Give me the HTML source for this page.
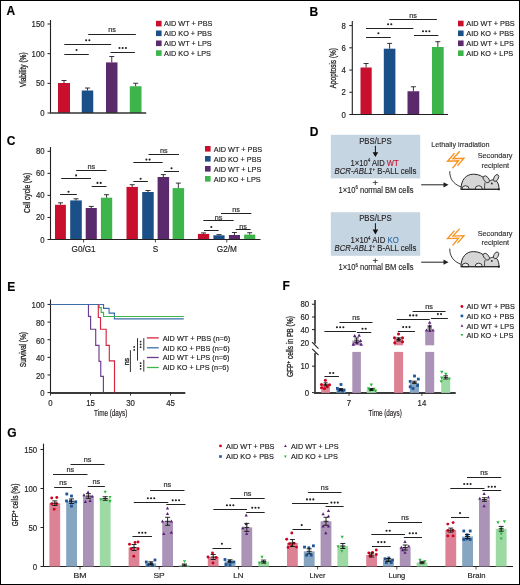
<!DOCTYPE html>
<html><head><meta charset="utf-8"><style>
html,body{margin:0;padding:0;background:#fff;}
svg{display:block;will-change:transform;}
text{font-family:"Liberation Sans", sans-serif;stroke:#231f20;stroke-width:0.18px;}
.l text{stroke-width:0.14px;}
</style></head><body>
<svg width="520" height="585" viewBox="0 0 520 585">
<rect x="0" y="0" width="520" height="585" fill="#fff"/>
<text x="6.5" y="15.3" font-size="12" text-anchor="start" fill="#000" stroke="#000" stroke-width="0.22" font-weight="bold">A</text>
<line x1="50.5" y1="20" x2="50.5" y2="113.5" stroke="#231f20" stroke-width="1.1"/>
<line x1="47.5" y1="24" x2="50.5" y2="24" stroke="#231f20" stroke-width="1"/>
<text x="44.6" y="27" font-size="8.5" text-anchor="end" fill="#231f20" stroke="#231f20" stroke-width="0.22" font-weight="normal" textLength="13.02" lengthAdjust="spacingAndGlyphs">150</text>
<line x1="47.5" y1="53.67" x2="50.5" y2="53.67" stroke="#231f20" stroke-width="1"/>
<text x="44.6" y="56.67" font-size="8.5" text-anchor="end" fill="#231f20" stroke="#231f20" stroke-width="0.22" font-weight="normal" textLength="13.02" lengthAdjust="spacingAndGlyphs">100</text>
<line x1="47.5" y1="83.33" x2="50.5" y2="83.33" stroke="#231f20" stroke-width="1"/>
<text x="44.6" y="86.33" font-size="8.5" text-anchor="end" fill="#231f20" stroke="#231f20" stroke-width="0.22" font-weight="normal" textLength="8.68" lengthAdjust="spacingAndGlyphs">50</text>
<line x1="47.5" y1="113" x2="50.5" y2="113" stroke="#231f20" stroke-width="1"/>
<text x="44.6" y="116" font-size="8.5" text-anchor="end" fill="#231f20" stroke="#231f20" stroke-width="0.22" font-weight="normal" textLength="4.34" lengthAdjust="spacingAndGlyphs">0</text>
<text transform="translate(22.8,69.7) rotate(-90)" x="0" y="2.91" font-size="8.3" text-anchor="middle" fill="#231f20" style="stroke-width:0.3px" textLength="34.8" lengthAdjust="spacingAndGlyphs">Viability (%)</text>
<rect x="58" y="83" width="12" height="30" fill="#c8102e"/>
<line x1="64" y1="83" x2="64" y2="80.5" stroke="#231f20" stroke-width="0.9"/>
<line x1="61.5" y1="80.5" x2="66.5" y2="80.5" stroke="#231f20" stroke-width="0.9"/>
<rect x="81.75" y="90.5" width="11.5" height="22.5" fill="#1b4f87"/>
<line x1="87.5" y1="90.5" x2="87.5" y2="88" stroke="#231f20" stroke-width="0.9"/>
<line x1="85" y1="88" x2="90" y2="88" stroke="#231f20" stroke-width="0.9"/>
<rect x="106" y="62.4" width="11.5" height="50.6" fill="#5b2a6c"/>
<line x1="111.75" y1="62.4" x2="111.75" y2="56.5" stroke="#231f20" stroke-width="0.9"/>
<line x1="109.25" y1="56.5" x2="114.25" y2="56.5" stroke="#231f20" stroke-width="0.9"/>
<rect x="129.8" y="86.25" width="11.7" height="26.75" fill="#3db54b"/>
<line x1="135.65" y1="86.25" x2="135.65" y2="83.25" stroke="#231f20" stroke-width="0.9"/>
<line x1="133.15" y1="83.25" x2="138.15" y2="83.25" stroke="#231f20" stroke-width="0.9"/>
<line x1="50.5" y1="113" x2="146.2" y2="113" stroke="#333" stroke-width="1.7"/>
<line x1="64.3" y1="54.5" x2="88.8" y2="54.5" stroke="#222" stroke-width="1"/>
<circle cx="76.55" cy="50" r="1.05" fill="#231f20"/>
<line x1="64.3" y1="44.5" x2="111.2" y2="44.5" stroke="#222" stroke-width="1"/>
<circle cx="86.15" cy="40.3" r="1.05" fill="#231f20"/>
<circle cx="89.35" cy="40.3" r="1.05" fill="#231f20"/>
<line x1="88.15" y1="34.5" x2="135.85" y2="34.5" stroke="#222" stroke-width="1"/>
<text x="112" y="32.4" font-size="7.3" text-anchor="middle" fill="#333" stroke="#333" stroke-width="0.22" font-weight="normal">ns</text>
<line x1="110.5" y1="52.5" x2="134.9" y2="52.5" stroke="#222" stroke-width="1"/>
<circle cx="119.5" cy="48" r="1.05" fill="#231f20"/>
<circle cx="122.7" cy="48" r="1.05" fill="#231f20"/>
<circle cx="125.9" cy="48" r="1.05" fill="#231f20"/>
<rect x="156" y="20.8" width="5.6" height="5.6" fill="#c8102e"/>
<text x="164.1" y="26.35" font-size="7.8" text-anchor="start" fill="#231f20" stroke="#231f20" stroke-width="0.22" font-weight="normal" textLength="48.34" lengthAdjust="spacingAndGlyphs">AID WT + PBS</text>
<rect x="156" y="30.5" width="5.6" height="5.6" fill="#1b4f87"/>
<text x="164.1" y="36.05" font-size="7.8" text-anchor="start" fill="#231f20" stroke="#231f20" stroke-width="0.22" font-weight="normal" textLength="47.67" lengthAdjust="spacingAndGlyphs">AID KO + PBS</text>
<rect x="156" y="40.5" width="5.6" height="5.6" fill="#5b2a6c"/>
<text x="164.1" y="46.05" font-size="7.8" text-anchor="start" fill="#231f20" stroke="#231f20" stroke-width="0.22" font-weight="normal" textLength="47.53" lengthAdjust="spacingAndGlyphs">AID WT + LPS</text>
<rect x="156" y="50.3" width="5.6" height="5.6" fill="#3db54b"/>
<text x="164.1" y="55.85" font-size="7.8" text-anchor="start" fill="#231f20" stroke="#231f20" stroke-width="0.22" font-weight="normal" textLength="46.86" lengthAdjust="spacingAndGlyphs">AID KO + LPS</text>
<text x="309.5" y="16" font-size="12" text-anchor="start" fill="#000" stroke="#000" stroke-width="0.22" font-weight="bold">B</text>
<line x1="352.3" y1="21" x2="352.3" y2="115" stroke="#231f20" stroke-width="1.1"/>
<line x1="349.3" y1="25.6" x2="352.3" y2="25.6" stroke="#231f20" stroke-width="1"/>
<text x="345.8" y="28.6" font-size="8.5" text-anchor="end" fill="#231f20" stroke="#231f20" stroke-width="0.22" font-weight="normal" textLength="4.34" lengthAdjust="spacingAndGlyphs">8</text>
<line x1="349.3" y1="47.82" x2="352.3" y2="47.82" stroke="#231f20" stroke-width="1"/>
<text x="345.8" y="50.82" font-size="8.5" text-anchor="end" fill="#231f20" stroke="#231f20" stroke-width="0.22" font-weight="normal" textLength="4.34" lengthAdjust="spacingAndGlyphs">6</text>
<line x1="349.3" y1="70.05" x2="352.3" y2="70.05" stroke="#231f20" stroke-width="1"/>
<text x="345.8" y="73.05" font-size="8.5" text-anchor="end" fill="#231f20" stroke="#231f20" stroke-width="0.22" font-weight="normal" textLength="4.34" lengthAdjust="spacingAndGlyphs">4</text>
<line x1="349.3" y1="92.28" x2="352.3" y2="92.28" stroke="#231f20" stroke-width="1"/>
<text x="345.8" y="95.28" font-size="8.5" text-anchor="end" fill="#231f20" stroke="#231f20" stroke-width="0.22" font-weight="normal" textLength="4.34" lengthAdjust="spacingAndGlyphs">2</text>
<line x1="349.3" y1="114.5" x2="352.3" y2="114.5" stroke="#231f20" stroke-width="1"/>
<text x="345.8" y="117.5" font-size="8.5" text-anchor="end" fill="#231f20" stroke="#231f20" stroke-width="0.22" font-weight="normal" textLength="4.34" lengthAdjust="spacingAndGlyphs">0</text>
<text transform="translate(333.5,68.2) rotate(-90)" x="0" y="2.91" font-size="8.3" text-anchor="middle" fill="#231f20" style="stroke-width:0.3px" textLength="40.3" lengthAdjust="spacingAndGlyphs">Apoptosis (%)</text>
<rect x="360.5" y="67.5" width="11.2" height="47" fill="#c8102e"/>
<line x1="366.1" y1="67.5" x2="366.1" y2="63.5" stroke="#231f20" stroke-width="0.9"/>
<line x1="363.6" y1="63.5" x2="368.6" y2="63.5" stroke="#231f20" stroke-width="0.9"/>
<rect x="383.8" y="48.7" width="11.6" height="65.8" fill="#1b4f87"/>
<line x1="389.6" y1="48.7" x2="389.6" y2="43.4" stroke="#231f20" stroke-width="0.9"/>
<line x1="387.1" y1="43.4" x2="392.1" y2="43.4" stroke="#231f20" stroke-width="0.9"/>
<rect x="407.5" y="91.25" width="11.75" height="23.25" fill="#5b2a6c"/>
<line x1="413.38" y1="91.25" x2="413.38" y2="86.75" stroke="#231f20" stroke-width="0.9"/>
<line x1="410.88" y1="86.75" x2="415.88" y2="86.75" stroke="#231f20" stroke-width="0.9"/>
<rect x="432" y="47" width="11.7" height="67.5" fill="#3db54b"/>
<line x1="437.85" y1="47" x2="437.85" y2="41.7" stroke="#231f20" stroke-width="0.9"/>
<line x1="435.35" y1="41.7" x2="440.35" y2="41.7" stroke="#231f20" stroke-width="0.9"/>
<line x1="352.3" y1="114.5" x2="448" y2="114.5" stroke="#231f20" stroke-width="1.1"/>
<line x1="366" y1="37.5" x2="390.8" y2="37.5" stroke="#222" stroke-width="1"/>
<circle cx="378.4" cy="33.3" r="1.05" fill="#231f20"/>
<line x1="366" y1="28.5" x2="413.4" y2="28.5" stroke="#222" stroke-width="1"/>
<circle cx="388.1" cy="24.2" r="1.05" fill="#231f20"/>
<circle cx="391.3" cy="24.2" r="1.05" fill="#231f20"/>
<line x1="389.3" y1="19.5" x2="436.9" y2="19.5" stroke="#222" stroke-width="1"/>
<text x="413.1" y="17.8" font-size="7.3" text-anchor="middle" fill="#333" stroke="#333" stroke-width="0.22" font-weight="normal">ns</text>
<line x1="414" y1="35.5" x2="438.4" y2="35.5" stroke="#222" stroke-width="1"/>
<circle cx="423" cy="31.2" r="1.05" fill="#231f20"/>
<circle cx="426.2" cy="31.2" r="1.05" fill="#231f20"/>
<circle cx="429.4" cy="31.2" r="1.05" fill="#231f20"/>
<rect x="458" y="20.7" width="5.6" height="5.6" fill="#c8102e"/>
<text x="466.3" y="26.25" font-size="7.8" text-anchor="start" fill="#231f20" stroke="#231f20" stroke-width="0.22" font-weight="normal" textLength="48.34" lengthAdjust="spacingAndGlyphs">AID WT + PBS</text>
<rect x="458" y="30.5" width="5.6" height="5.6" fill="#1b4f87"/>
<text x="466.3" y="36.05" font-size="7.8" text-anchor="start" fill="#231f20" stroke="#231f20" stroke-width="0.22" font-weight="normal" textLength="47.67" lengthAdjust="spacingAndGlyphs">AID KO + PBS</text>
<rect x="458" y="40.5" width="5.6" height="5.6" fill="#5b2a6c"/>
<text x="466.3" y="46.05" font-size="7.8" text-anchor="start" fill="#231f20" stroke="#231f20" stroke-width="0.22" font-weight="normal" textLength="47.53" lengthAdjust="spacingAndGlyphs">AID WT + LPS</text>
<rect x="458" y="50.4" width="5.6" height="5.6" fill="#3db54b"/>
<text x="466.3" y="55.95" font-size="7.8" text-anchor="start" fill="#231f20" stroke="#231f20" stroke-width="0.22" font-weight="normal" textLength="46.86" lengthAdjust="spacingAndGlyphs">AID KO + LPS</text>
<text x="6.8" y="145" font-size="12" text-anchor="start" fill="#000" stroke="#000" stroke-width="0.22" font-weight="bold">C</text>
<line x1="50.5" y1="147" x2="50.5" y2="240" stroke="#231f20" stroke-width="1.1"/>
<line x1="47.5" y1="151.3" x2="50.5" y2="151.3" stroke="#231f20" stroke-width="1"/>
<text x="44.6" y="154.3" font-size="8.5" text-anchor="end" fill="#231f20" stroke="#231f20" stroke-width="0.22" font-weight="normal" textLength="8.68" lengthAdjust="spacingAndGlyphs">80</text>
<line x1="47.5" y1="173.35" x2="50.5" y2="173.35" stroke="#231f20" stroke-width="1"/>
<text x="44.6" y="176.35" font-size="8.5" text-anchor="end" fill="#231f20" stroke="#231f20" stroke-width="0.22" font-weight="normal" textLength="8.68" lengthAdjust="spacingAndGlyphs">60</text>
<line x1="47.5" y1="195.4" x2="50.5" y2="195.4" stroke="#231f20" stroke-width="1"/>
<text x="44.6" y="198.4" font-size="8.5" text-anchor="end" fill="#231f20" stroke="#231f20" stroke-width="0.22" font-weight="normal" textLength="8.68" lengthAdjust="spacingAndGlyphs">40</text>
<line x1="47.5" y1="217.45" x2="50.5" y2="217.45" stroke="#231f20" stroke-width="1"/>
<text x="44.6" y="220.45" font-size="8.5" text-anchor="end" fill="#231f20" stroke="#231f20" stroke-width="0.22" font-weight="normal" textLength="8.68" lengthAdjust="spacingAndGlyphs">20</text>
<line x1="47.5" y1="239.5" x2="50.5" y2="239.5" stroke="#231f20" stroke-width="1"/>
<text x="44.6" y="242.5" font-size="8.5" text-anchor="end" fill="#231f20" stroke="#231f20" stroke-width="0.22" font-weight="normal" textLength="4.34" lengthAdjust="spacingAndGlyphs">0</text>
<text transform="translate(27.2,193) rotate(-90)" x="0" y="2.91" font-size="8.3" text-anchor="middle" fill="#231f20" style="stroke-width:0.3px" textLength="40.2" lengthAdjust="spacingAndGlyphs">Cell cycle (%)</text>
<rect x="55" y="204.8" width="10.9" height="34.7" fill="#c8102e"/>
<line x1="60.45" y1="204.8" x2="60.45" y2="202.8" stroke="#231f20" stroke-width="0.9"/>
<line x1="57.95" y1="202.8" x2="62.95" y2="202.8" stroke="#231f20" stroke-width="0.9"/>
<rect x="70.2" y="200.4" width="11.6" height="39.1" fill="#1b4f87"/>
<line x1="76" y1="200.4" x2="76" y2="198.8" stroke="#231f20" stroke-width="0.9"/>
<line x1="73.5" y1="198.8" x2="78.5" y2="198.8" stroke="#231f20" stroke-width="0.9"/>
<rect x="85.7" y="208" width="11.1" height="31.5" fill="#5b2a6c"/>
<line x1="91.25" y1="208" x2="91.25" y2="206.4" stroke="#231f20" stroke-width="0.9"/>
<line x1="88.75" y1="206.4" x2="93.75" y2="206.4" stroke="#231f20" stroke-width="0.9"/>
<rect x="100.9" y="197.7" width="11.3" height="41.8" fill="#3db54b"/>
<line x1="106.55" y1="197.7" x2="106.55" y2="194.7" stroke="#231f20" stroke-width="0.9"/>
<line x1="104.05" y1="194.7" x2="109.05" y2="194.7" stroke="#231f20" stroke-width="0.9"/>
<rect x="126.5" y="186.9" width="11.4" height="52.6" fill="#c8102e"/>
<line x1="132.2" y1="186.9" x2="132.2" y2="184.7" stroke="#231f20" stroke-width="0.9"/>
<line x1="129.7" y1="184.7" x2="134.7" y2="184.7" stroke="#231f20" stroke-width="0.9"/>
<rect x="142.2" y="192" width="11.5" height="47.5" fill="#1b4f87"/>
<line x1="147.95" y1="192" x2="147.95" y2="190.5" stroke="#231f20" stroke-width="0.9"/>
<line x1="145.45" y1="190.5" x2="150.45" y2="190.5" stroke="#231f20" stroke-width="0.9"/>
<rect x="157.6" y="177" width="11.5" height="62.5" fill="#5b2a6c"/>
<line x1="163.35" y1="177" x2="163.35" y2="174.6" stroke="#231f20" stroke-width="0.9"/>
<line x1="160.85" y1="174.6" x2="165.85" y2="174.6" stroke="#231f20" stroke-width="0.9"/>
<rect x="172.6" y="188.1" width="11.5" height="51.4" fill="#3db54b"/>
<line x1="178.35" y1="188.1" x2="178.35" y2="183.1" stroke="#231f20" stroke-width="0.9"/>
<line x1="175.85" y1="183.1" x2="180.85" y2="183.1" stroke="#231f20" stroke-width="0.9"/>
<rect x="197.9" y="233.9" width="11.3" height="5.6" fill="#c8102e"/>
<line x1="203.55" y1="233.9" x2="203.55" y2="232.9" stroke="#231f20" stroke-width="0.9"/>
<line x1="201.05" y1="232.9" x2="206.05" y2="232.9" stroke="#231f20" stroke-width="0.9"/>
<rect x="213.4" y="235.3" width="11.2" height="4.2" fill="#1b4f87"/>
<line x1="219" y1="235.3" x2="219" y2="234.6" stroke="#231f20" stroke-width="0.9"/>
<line x1="216.5" y1="234.6" x2="221.5" y2="234.6" stroke="#231f20" stroke-width="0.9"/>
<rect x="228.9" y="235" width="11.1" height="4.5" fill="#5b2a6c"/>
<line x1="234.45" y1="235" x2="234.45" y2="232.5" stroke="#231f20" stroke-width="0.9"/>
<line x1="231.95" y1="232.5" x2="236.95" y2="232.5" stroke="#231f20" stroke-width="0.9"/>
<rect x="244.1" y="234.6" width="11.2" height="4.9" fill="#3db54b"/>
<line x1="249.7" y1="234.6" x2="249.7" y2="232.7" stroke="#231f20" stroke-width="0.9"/>
<line x1="247.2" y1="232.7" x2="252.2" y2="232.7" stroke="#231f20" stroke-width="0.9"/>
<line x1="50.5" y1="239.5" x2="260.5" y2="239.5" stroke="#231f20" stroke-width="1.1"/>
<line x1="83.6" y1="239.5" x2="83.6" y2="242.5" stroke="#231f20" stroke-width="0.8"/>
<text x="83.6" y="251.9" font-size="8.2" text-anchor="middle" fill="#231f20" stroke="#231f20" stroke-width="0.22" font-weight="normal">G0/G1</text>
<line x1="155.4" y1="239.5" x2="155.4" y2="242.5" stroke="#231f20" stroke-width="0.8"/>
<text x="155.4" y="251.9" font-size="8.2" text-anchor="middle" fill="#231f20" stroke="#231f20" stroke-width="0.22" font-weight="normal">S</text>
<line x1="226.8" y1="239.5" x2="226.8" y2="242.5" stroke="#231f20" stroke-width="0.8"/>
<text x="226.8" y="251.9" font-size="8.2" text-anchor="middle" fill="#231f20" stroke="#231f20" stroke-width="0.22" font-weight="normal">G2/M</text>
<line x1="60.1" y1="194.5" x2="76.9" y2="194.5" stroke="#222" stroke-width="1"/>
<circle cx="68.5" cy="191.7" r="1.05" fill="#231f20"/>
<line x1="61.2" y1="178.5" x2="91" y2="178.5" stroke="#222" stroke-width="1"/>
<circle cx="76.1" cy="175.4" r="1.05" fill="#231f20"/>
<line x1="76.2" y1="170.5" x2="106.5" y2="170.5" stroke="#222" stroke-width="1"/>
<text x="91.35" y="169.4" font-size="7.3" text-anchor="middle" fill="#333" stroke="#333" stroke-width="0.22" font-weight="normal">ns</text>
<line x1="91.7" y1="186.5" x2="106.5" y2="186.5" stroke="#222" stroke-width="1"/>
<circle cx="97.5" cy="182.9" r="1.05" fill="#231f20"/>
<circle cx="100.7" cy="182.9" r="1.05" fill="#231f20"/>
<line x1="133.3" y1="181.5" x2="147.9" y2="181.5" stroke="#222" stroke-width="1"/>
<circle cx="140.6" cy="178.75" r="1.05" fill="#231f20"/>
<line x1="133.3" y1="162.5" x2="162.7" y2="162.5" stroke="#222" stroke-width="1"/>
<circle cx="146.4" cy="159.6" r="1.05" fill="#231f20"/>
<circle cx="149.6" cy="159.6" r="1.05" fill="#231f20"/>
<line x1="148.5" y1="154.5" x2="179" y2="154.5" stroke="#222" stroke-width="1"/>
<text x="163.75" y="153.4" font-size="7.3" text-anchor="middle" fill="#333" stroke="#333" stroke-width="0.22" font-weight="normal">ns</text>
<line x1="164.1" y1="171.5" x2="179" y2="171.5" stroke="#222" stroke-width="1"/>
<circle cx="171.55" cy="168.2" r="1.05" fill="#231f20"/>
<line x1="204" y1="230.5" x2="218.6" y2="230.5" stroke="#222" stroke-width="1"/>
<circle cx="211.3" cy="227" r="1.05" fill="#231f20"/>
<line x1="203.3" y1="220.5" x2="233.7" y2="220.5" stroke="#222" stroke-width="1"/>
<text x="218.5" y="219.9" font-size="7.3" text-anchor="middle" fill="#333" stroke="#333" stroke-width="0.22" font-weight="normal">ns</text>
<line x1="221" y1="213.5" x2="251.3" y2="213.5" stroke="#222" stroke-width="1"/>
<text x="236.15" y="212.3" font-size="7.3" text-anchor="middle" fill="#333" stroke="#333" stroke-width="0.22" font-weight="normal">ns</text>
<line x1="235.7" y1="229.5" x2="250.6" y2="229.5" stroke="#222" stroke-width="1"/>
<text x="243.15" y="228.6" font-size="7.3" text-anchor="middle" fill="#333" stroke="#333" stroke-width="0.22" font-weight="normal">ns</text>
<rect x="205" y="146" width="5.6" height="5.6" fill="#c8102e"/>
<text x="213.8" y="151.55" font-size="7.8" text-anchor="start" fill="#231f20" stroke="#231f20" stroke-width="0.22" font-weight="normal" textLength="48.34" lengthAdjust="spacingAndGlyphs">AID WT + PBS</text>
<rect x="205" y="156" width="5.6" height="5.6" fill="#1b4f87"/>
<text x="213.8" y="161.55" font-size="7.8" text-anchor="start" fill="#231f20" stroke="#231f20" stroke-width="0.22" font-weight="normal" textLength="47.67" lengthAdjust="spacingAndGlyphs">AID KO + PBS</text>
<rect x="205" y="166" width="5.6" height="5.6" fill="#5b2a6c"/>
<text x="213.8" y="171.55" font-size="7.8" text-anchor="start" fill="#231f20" stroke="#231f20" stroke-width="0.22" font-weight="normal" textLength="47.53" lengthAdjust="spacingAndGlyphs">AID WT + LPS</text>
<rect x="205" y="176" width="5.6" height="5.6" fill="#3db54b"/>
<text x="213.8" y="181.55" font-size="7.8" text-anchor="start" fill="#231f20" stroke="#231f20" stroke-width="0.22" font-weight="normal" textLength="46.86" lengthAdjust="spacingAndGlyphs">AID KO + LPS</text>
<text x="309.8" y="136.2" font-size="12" text-anchor="start" fill="#000" stroke="#000" stroke-width="0.22" font-weight="bold">D</text>
<g class="l">
<rect x="330.8" y="134.8" width="89.4" height="43.6" fill="#c6d5e2"/>
<text x="375.4" y="143.8" font-size="8.5" text-anchor="middle" fill="#231f20" stroke="#231f20" stroke-width="0.22" font-weight="normal" textLength="32.5" lengthAdjust="spacingAndGlyphs">PBS/LPS</text>
<line x1="375.4" y1="145.8" x2="375.4" y2="154" stroke="#111" stroke-width="1"/>
<path d="M372.6 152.2 L378.2 152.2 L375.4 157 Z" fill="#111"/>
<text x="374.65" y="165.6" font-size="8.3" text-anchor="middle" fill="#231f20" textLength="48.1" lengthAdjust="spacingAndGlyphs">1×10<tspan font-size="4.8" dy="-3.2">4</tspan><tspan dy="3.2"> AID </tspan><tspan fill="#c8102e" stroke="#c8102e">WT</tspan></text>
<text x="375.45" y="173.8" font-size="8.3" text-anchor="middle" fill="#231f20" textLength="81.7" lengthAdjust="spacingAndGlyphs"><tspan font-style="italic">BCR-ABL1</tspan><tspan font-size="4.8" dy="-3.2">+</tspan><tspan dy="3.2"> B-ALL cells</tspan></text>
<text x="375.4" y="186.2" font-size="9.5" text-anchor="middle" fill="#231f20" stroke="#231f20" stroke-width="0.22" font-weight="normal">+</text>
<text x="376" y="192.5" font-size="8.3" text-anchor="middle" fill="#231f20" textLength="75" lengthAdjust="spacingAndGlyphs">1×10<tspan font-size="4.8" dy="-3.2">6</tspan><tspan dy="3.2"> normal BM cells</tspan></text>
<line x1="421.2" y1="184.8" x2="445" y2="184.8" stroke="#222" stroke-width="1"/>
<path d="M443.5 182.2 L448.5 184.8 L443.5 187.4 Z" fill="#222"/>
<path d="M454.5 153.25 L447.5 161.25 L458.5 160.75 L452.5 168.25" fill="none" stroke="#f7931e" stroke-width="1.3" stroke-linejoin="miter"/>
<path d="M459.75 151.25 L453 158.75 L464 158.25 L457.5 165.75" fill="none" stroke="#f7931e" stroke-width="1.3" stroke-linejoin="miter"/>
<text x="495.1" y="158.4" font-size="7.7" text-anchor="middle" fill="#333" stroke="#333" stroke-width="0.22" font-weight="normal" textLength="34.8" lengthAdjust="spacingAndGlyphs">Secondary</text>
<text x="495.3" y="167.6" font-size="7.7" text-anchor="middle" fill="#333" stroke="#333" stroke-width="0.22" font-weight="normal" textLength="27.7" lengthAdjust="spacingAndGlyphs">recipient</text>
<path d="M449.8 171.2 C449.5 178 453 184 461 186.9" fill="none" stroke="#262626" stroke-width="0.9"/>
<path d="M461 189.3 C461 179.8 466 174.2 473.5 174.2 C479 174.2 483 176.5 485.5 179.5 L488 182 C491 179.5 495 179 497 181.5 C498.5 183.5 499 186.5 499 189.3 Z" fill="#d6d6d6" stroke="#262626" stroke-width="1.0" stroke-linejoin="round"/>
<path d="M485 182.5 Q484.3 185.8 484.6 189.3" fill="none" stroke="#262626" stroke-width="0.8"/>
<path d="M461.9 189.3 A3.6 3.6 0 0 1 469.1 189.3 Z" fill="#ececec" stroke="#262626" stroke-width="0.9"/>
<path d="M475.1 189.3 A3.6 3.6 0 0 1 482.3 189.3 Z" fill="#ececec" stroke="#262626" stroke-width="0.9"/>
<ellipse cx="486.3" cy="179.3" rx="2.4" ry="4.0" transform="rotate(-40 486.3 179.3)" fill="#d6d6d6" stroke="#262626" stroke-width="0.8"/>
<ellipse cx="496.1" cy="178" rx="2.2" ry="3.7" transform="rotate(28 496.1 178)" fill="#d6d6d6" stroke="#262626" stroke-width="0.8"/>
<circle cx="491.8" cy="183.5" r="0.9" fill="#262626"/>
<circle cx="498.9" cy="189.3" r="1.15" fill="#262626"/>
<line x1="460.5" y1="189.3" x2="499" y2="189.3" stroke="#262626" stroke-width="1"/>
<text x="460.45" y="147.2" font-size="7.6" text-anchor="middle" fill="#333" stroke="#333" stroke-width="0.22" font-weight="normal" textLength="58.3" lengthAdjust="spacingAndGlyphs">Lethally irradiation</text>
<rect x="330.8" y="212.2" width="89.4" height="43.6" fill="#c6d5e2"/>
<text x="375.4" y="221.2" font-size="8.5" text-anchor="middle" fill="#231f20" stroke="#231f20" stroke-width="0.22" font-weight="normal" textLength="32.5" lengthAdjust="spacingAndGlyphs">PBS/LPS</text>
<line x1="375.4" y1="223.2" x2="375.4" y2="231.4" stroke="#111" stroke-width="1"/>
<path d="M372.6 229.6 L378.2 229.6 L375.4 234.4 Z" fill="#111"/>
<text x="374.65" y="243" font-size="8.3" text-anchor="middle" fill="#231f20" textLength="48.1" lengthAdjust="spacingAndGlyphs">1×10<tspan font-size="4.8" dy="-3.2">4</tspan><tspan dy="3.2"> AID </tspan><tspan fill="#2b6aa6" stroke="#2b6aa6">KO</tspan></text>
<text x="375.45" y="251.2" font-size="8.3" text-anchor="middle" fill="#231f20" textLength="81.7" lengthAdjust="spacingAndGlyphs"><tspan font-style="italic">BCR-ABL1</tspan><tspan font-size="4.8" dy="-3.2">+</tspan><tspan dy="3.2"> B-ALL cells</tspan></text>
<text x="375.4" y="263.6" font-size="9.5" text-anchor="middle" fill="#231f20" stroke="#231f20" stroke-width="0.22" font-weight="normal">+</text>
<text x="376" y="269.9" font-size="8.3" text-anchor="middle" fill="#231f20" textLength="75" lengthAdjust="spacingAndGlyphs">1×10<tspan font-size="4.8" dy="-3.2">6</tspan><tspan dy="3.2"> normal BM cells</tspan></text>
<line x1="421.2" y1="262.2" x2="445" y2="262.2" stroke="#222" stroke-width="1"/>
<path d="M443.5 259.6 L448.5 262.2 L443.5 264.8 Z" fill="#222"/>
<path d="M454.5 230.65 L447.5 238.65 L458.5 238.15 L452.5 245.65" fill="none" stroke="#f7931e" stroke-width="1.3" stroke-linejoin="miter"/>
<path d="M459.75 228.65 L453 236.15 L464 235.65 L457.5 243.15" fill="none" stroke="#f7931e" stroke-width="1.3" stroke-linejoin="miter"/>
<text x="495.1" y="235.8" font-size="7.7" text-anchor="middle" fill="#333" stroke="#333" stroke-width="0.22" font-weight="normal" textLength="34.8" lengthAdjust="spacingAndGlyphs">Secondary</text>
<text x="495.3" y="245" font-size="7.7" text-anchor="middle" fill="#333" stroke="#333" stroke-width="0.22" font-weight="normal" textLength="27.7" lengthAdjust="spacingAndGlyphs">recipient</text>
<path d="M449.8 248.6 C449.5 255.4 453 261.4 461 264.3" fill="none" stroke="#262626" stroke-width="0.9"/>
<path d="M461 266.7 C461 257.2 466 251.6 473.5 251.6 C479 251.6 483 253.9 485.5 256.9 L488 259.4 C491 256.9 495 256.4 497 258.9 C498.5 260.9 499 263.9 499 266.7 Z" fill="#d6d6d6" stroke="#262626" stroke-width="1.0" stroke-linejoin="round"/>
<path d="M485 259.9 Q484.3 263.2 484.6 266.7" fill="none" stroke="#262626" stroke-width="0.8"/>
<path d="M461.9 266.7 A3.6 3.6 0 0 1 469.1 266.7 Z" fill="#ececec" stroke="#262626" stroke-width="0.9"/>
<path d="M475.1 266.7 A3.6 3.6 0 0 1 482.3 266.7 Z" fill="#ececec" stroke="#262626" stroke-width="0.9"/>
<ellipse cx="486.3" cy="256.7" rx="2.4" ry="4.0" transform="rotate(-40 486.3 256.7)" fill="#d6d6d6" stroke="#262626" stroke-width="0.8"/>
<ellipse cx="496.1" cy="255.4" rx="2.2" ry="3.7" transform="rotate(28 496.1 255.4)" fill="#d6d6d6" stroke="#262626" stroke-width="0.8"/>
<circle cx="491.8" cy="260.9" r="0.9" fill="#262626"/>
<circle cx="498.9" cy="266.7" r="1.15" fill="#262626"/>
<line x1="460.5" y1="266.7" x2="499" y2="266.7" stroke="#262626" stroke-width="1"/>
</g>
<text x="7.2" y="290.8" font-size="12" text-anchor="start" fill="#000" stroke="#000" stroke-width="0.22" font-weight="bold">E</text>
<line x1="50.5" y1="299.5" x2="50.5" y2="393.1" stroke="#231f20" stroke-width="1.1"/>
<line x1="47.5" y1="304.45" x2="50.5" y2="304.45" stroke="#231f20" stroke-width="1"/>
<text x="44.6" y="308.25" font-size="8.5" text-anchor="end" fill="#231f20" stroke="#231f20" stroke-width="0.22" font-weight="normal" textLength="13.02" lengthAdjust="spacingAndGlyphs">100</text>
<line x1="47.5" y1="322.08" x2="50.5" y2="322.08" stroke="#231f20" stroke-width="1"/>
<text x="44.6" y="325.88" font-size="8.5" text-anchor="end" fill="#231f20" stroke="#231f20" stroke-width="0.22" font-weight="normal" textLength="8.68" lengthAdjust="spacingAndGlyphs">80</text>
<line x1="47.5" y1="339.71" x2="50.5" y2="339.71" stroke="#231f20" stroke-width="1"/>
<text x="44.6" y="343.51" font-size="8.5" text-anchor="end" fill="#231f20" stroke="#231f20" stroke-width="0.22" font-weight="normal" textLength="8.68" lengthAdjust="spacingAndGlyphs">60</text>
<line x1="47.5" y1="357.34" x2="50.5" y2="357.34" stroke="#231f20" stroke-width="1"/>
<text x="44.6" y="361.14" font-size="8.5" text-anchor="end" fill="#231f20" stroke="#231f20" stroke-width="0.22" font-weight="normal" textLength="8.68" lengthAdjust="spacingAndGlyphs">40</text>
<line x1="47.5" y1="374.97" x2="50.5" y2="374.97" stroke="#231f20" stroke-width="1"/>
<text x="44.6" y="378.77" font-size="8.5" text-anchor="end" fill="#231f20" stroke="#231f20" stroke-width="0.22" font-weight="normal" textLength="8.68" lengthAdjust="spacingAndGlyphs">20</text>
<line x1="47.5" y1="392.6" x2="50.5" y2="392.6" stroke="#231f20" stroke-width="1"/>
<text x="44.6" y="396.4" font-size="8.5" text-anchor="end" fill="#231f20" stroke="#231f20" stroke-width="0.22" font-weight="normal" textLength="4.34" lengthAdjust="spacingAndGlyphs">0</text>
<text transform="translate(22.8,349.6) rotate(-90)" x="0" y="2.91" font-size="8.3" text-anchor="middle" fill="#231f20" style="stroke-width:0.3px" textLength="35.2" lengthAdjust="spacingAndGlyphs">Survival (%)</text>
<line x1="50.5" y1="393" x2="185.3" y2="393" stroke="#3a3a3a" stroke-width="1.8"/>
<line x1="50.5" y1="392.6" x2="50.5" y2="395.6" stroke="#231f20" stroke-width="0.9"/>
<text x="50.5" y="405.5" font-size="8.5" text-anchor="middle" fill="#231f20" stroke="#231f20" stroke-width="0.22" font-weight="normal" textLength="4.34" lengthAdjust="spacingAndGlyphs">0</text>
<line x1="90.5" y1="392.6" x2="90.5" y2="395.6" stroke="#231f20" stroke-width="0.9"/>
<text x="90.5" y="405.5" font-size="8.5" text-anchor="middle" fill="#231f20" stroke="#231f20" stroke-width="0.22" font-weight="normal" textLength="8.68" lengthAdjust="spacingAndGlyphs">15</text>
<line x1="130.5" y1="392.6" x2="130.5" y2="395.6" stroke="#231f20" stroke-width="0.9"/>
<text x="130.5" y="405.5" font-size="8.5" text-anchor="middle" fill="#231f20" stroke="#231f20" stroke-width="0.22" font-weight="normal" textLength="8.68" lengthAdjust="spacingAndGlyphs">30</text>
<line x1="170.5" y1="392.6" x2="170.5" y2="395.6" stroke="#231f20" stroke-width="0.9"/>
<text x="170.5" y="405.5" font-size="8.5" text-anchor="middle" fill="#231f20" stroke="#231f20" stroke-width="0.22" font-weight="normal" textLength="8.68" lengthAdjust="spacingAndGlyphs">45</text>
<text x="110.7" y="415.8" font-size="8.7" text-anchor="middle" fill="#231f20" stroke="#231f20" stroke-width="0.22" font-weight="normal" textLength="33.2" lengthAdjust="spacingAndGlyphs">Time (days)</text>
<path d="M50.5 304.45 L103.55 304.45 L103.55 308.4 L109.1 308.4 L109.1 313.1 L114.4 313.1 L114.4 318.9 L183.75 318.9" fill="none" stroke="#3b6ea8" stroke-width="1.15"/>
<path d="M99.2 304.45 L99.2 307.6 L101.15 307.6 L101.15 312.4 L103.55 312.4 L103.55 316.5 L183.75 316.5" fill="none" stroke="#3db54b" stroke-width="1.15"/>
<path d="M98.3 304.45 L98.3 317.5 L100.5 317.5 L100.5 329.25 L106.15 329.25 L106.15 345.3 L109.3 345.3 L109.3 360.8 L114.5 360.8 L114.5 392.6" fill="none" stroke="#d6243f" stroke-width="1.15"/>
<path d="M88.46 304.45 L88.46 316.3 L90.6 316.3 L90.6 329.25 L95.7 329.25 L95.7 345.3 L99 345.3 L99 361.3 L100.75 361.3 L100.75 376.3 L103.4 376.3 L103.4 392.6" fill="none" stroke="#6a3d8f" stroke-width="1.15"/>
<line x1="146.9" y1="337.9" x2="158.7" y2="337.9" stroke="#d6243f" stroke-width="1.3"/>
<text x="162.7" y="340.65" font-size="7.8" text-anchor="start" fill="#231f20" stroke="#231f20" stroke-width="0.22" font-weight="normal" textLength="67.61" lengthAdjust="spacingAndGlyphs">AID WT + PBS (n=6)</text>
<line x1="146.9" y1="347.8" x2="158.7" y2="347.8" stroke="#3b6ea8" stroke-width="1.3"/>
<text x="162.7" y="350.55" font-size="7.8" text-anchor="start" fill="#231f20" stroke="#231f20" stroke-width="0.22" font-weight="normal" textLength="66.94" lengthAdjust="spacingAndGlyphs">AID KO + PBS (n=6)</text>
<line x1="146.9" y1="357.5" x2="158.7" y2="357.5" stroke="#6a3d8f" stroke-width="1.3"/>
<text x="162.7" y="360.25" font-size="7.8" text-anchor="start" fill="#231f20" stroke="#231f20" stroke-width="0.22" font-weight="normal" textLength="66.8" lengthAdjust="spacingAndGlyphs">AID WT + LPS (n=6)</text>
<line x1="146.9" y1="367.5" x2="158.7" y2="367.5" stroke="#3db54b" stroke-width="1.3"/>
<text x="162.7" y="370.25" font-size="7.8" text-anchor="start" fill="#231f20" stroke="#231f20" stroke-width="0.22" font-weight="normal" textLength="66.13" lengthAdjust="spacingAndGlyphs">AID KO + LPS (n=6)</text>
<line x1="130.4" y1="350.2" x2="130.4" y2="372" stroke="#333" stroke-width="1"/>
<text transform="translate(126.5,361.6) rotate(-90)" x="0" y="2.45" font-size="7" text-anchor="middle" fill="#231f20" style="stroke-width:0.3px">ns</text>
<line x1="137.5" y1="338.2" x2="137.5" y2="360.6" stroke="#333" stroke-width="1"/>
<circle cx="134.2" cy="346.9" r="0.9" fill="#231f20"/>
<circle cx="134.2" cy="349.9" r="0.9" fill="#231f20"/>
<line x1="143.8" y1="338.2" x2="143.8" y2="350.5" stroke="#333" stroke-width="1"/>
<circle cx="140.6" cy="341.6" r="0.9" fill="#231f20"/>
<circle cx="140.6" cy="344.4" r="0.9" fill="#231f20"/>
<circle cx="140.6" cy="347.2" r="0.9" fill="#231f20"/>
<line x1="143.8" y1="359.8" x2="143.8" y2="371.6" stroke="#333" stroke-width="1"/>
<circle cx="140.6" cy="363.2" r="0.9" fill="#231f20"/>
<circle cx="140.6" cy="366" r="0.9" fill="#231f20"/>
<circle cx="140.6" cy="368.8" r="0.9" fill="#231f20"/>
<text x="282.6" y="290" font-size="12" text-anchor="start" fill="#000" stroke="#000" stroke-width="0.22" font-weight="bold">F</text>
<line x1="315" y1="300" x2="315" y2="343.7" stroke="#505050" stroke-width="1.9"/>
<line x1="315" y1="352.9" x2="315" y2="392.9" stroke="#505050" stroke-width="1.9"/>
<line x1="312.1" y1="342.2" x2="318.5" y2="348.6" stroke="#231f20" stroke-width="1.1"/>
<line x1="312.2" y1="348.8" x2="318.5" y2="355.2" stroke="#231f20" stroke-width="1.1"/>
<line x1="312" y1="304.25" x2="315" y2="304.25" stroke="#231f20" stroke-width="1"/>
<text x="309.2" y="307.25" font-size="8.5" text-anchor="end" fill="#231f20" stroke="#231f20" stroke-width="0.22" font-weight="normal" textLength="8.68" lengthAdjust="spacingAndGlyphs">80</text>
<line x1="312" y1="317" x2="315" y2="317" stroke="#231f20" stroke-width="1"/>
<text x="309.2" y="320" font-size="8.5" text-anchor="end" fill="#231f20" stroke="#231f20" stroke-width="0.22" font-weight="normal" textLength="8.68" lengthAdjust="spacingAndGlyphs">60</text>
<line x1="312" y1="329.6" x2="315" y2="329.6" stroke="#231f20" stroke-width="1"/>
<text x="309.2" y="332.6" font-size="8.5" text-anchor="end" fill="#231f20" stroke="#231f20" stroke-width="0.22" font-weight="normal" textLength="8.68" lengthAdjust="spacingAndGlyphs">40</text>
<line x1="312" y1="366.2" x2="315" y2="366.2" stroke="#231f20" stroke-width="1"/>
<text x="309.2" y="369.2" font-size="8.5" text-anchor="end" fill="#231f20" stroke="#231f20" stroke-width="0.22" font-weight="normal" textLength="8.68" lengthAdjust="spacingAndGlyphs">10</text>
<line x1="312" y1="392.6" x2="315" y2="392.6" stroke="#231f20" stroke-width="1"/>
<text x="309.2" y="395.6" font-size="8.5" text-anchor="end" fill="#231f20" stroke="#231f20" stroke-width="0.22" font-weight="normal" textLength="4.34" lengthAdjust="spacingAndGlyphs">0</text>
<text x="309.2" y="346.1" font-size="8.5" text-anchor="end" fill="#231f20" stroke="#231f20" stroke-width="0.22" font-weight="normal" textLength="8.68" lengthAdjust="spacingAndGlyphs">20</text>
<text transform="translate(290.3,346.6) rotate(-90)" x="0" y="2.9" font-size="8.3" text-anchor="middle" fill="#231f20" style="stroke-width:0.3px" textLength="61" lengthAdjust="spacingAndGlyphs">GFP<tspan font-size="5.5" dy="-3.2">+</tspan><tspan dy="3.2"> cells in PB (%)</tspan></text>
<line x1="314" y1="393" x2="455.7" y2="393" stroke="#3a3a3a" stroke-width="1.8"/>
<line x1="349" y1="392.9" x2="349" y2="395.9" stroke="#231f20" stroke-width="0.8"/>
<text x="349" y="405.5" font-size="8.5" text-anchor="middle" fill="#231f20" stroke="#231f20" stroke-width="0.22" font-weight="normal" textLength="4.34" lengthAdjust="spacingAndGlyphs">7</text>
<line x1="421.9" y1="392.9" x2="421.9" y2="395.9" stroke="#231f20" stroke-width="0.8"/>
<text x="421.9" y="405.5" font-size="8.5" text-anchor="middle" fill="#231f20" stroke="#231f20" stroke-width="0.22" font-weight="normal" textLength="8.68" lengthAdjust="spacingAndGlyphs">14</text>
<text x="385.2" y="415.8" font-size="8.7" text-anchor="middle" fill="#231f20" stroke="#231f20" stroke-width="0.22" font-weight="normal" textLength="33.2" lengthAdjust="spacingAndGlyphs">Time (days)</text>
<rect x="321.3" y="384.1" width="8.6" height="8.8" fill="#dd8294"/>
<rect x="336.4" y="388.9" width="9" height="4" fill="#86a5c1"/>
<rect x="352.3" y="340.5" width="8.6" height="4.8" fill="#ab93b8"/>
<rect x="352.3" y="351.9" width="8.6" height="41" fill="#ab93b8"/>
<rect x="366.7" y="389.2" width="9.7" height="3.7" fill="#9dd9a3"/>
<rect x="394.1" y="338.7" width="9" height="6.6" fill="#dd8294"/>
<rect x="394.1" y="351.9" width="9" height="41" fill="#dd8294"/>
<rect x="409.8" y="382.8" width="9.2" height="10.1" fill="#86a5c1"/>
<rect x="425.2" y="331.3" width="9" height="14" fill="#ab93b8"/>
<rect x="425.2" y="351.9" width="9" height="41" fill="#ab93b8"/>
<rect x="441.2" y="378.3" width="9" height="14.6" fill="#9dd9a3"/>
<circle cx="325.4" cy="380.2" r="1.55" fill="#d0021b"/>
<circle cx="321.5" cy="384.5" r="1.55" fill="#d0021b"/>
<circle cx="329.5" cy="384.8" r="1.55" fill="#d0021b"/>
<circle cx="321.5" cy="387.7" r="1.55" fill="#d0021b"/>
<circle cx="327.3" cy="386.7" r="1.55" fill="#d0021b"/>
<circle cx="324.5" cy="388.5" r="1.55" fill="#d0021b"/>
<line x1="325.6" y1="382.8" x2="325.6" y2="385.8" stroke="#111" stroke-width="0.9"/>
<line x1="323.6" y1="382.8" x2="327.6" y2="382.8" stroke="#111" stroke-width="0.9"/>
<line x1="323.6" y1="385.8" x2="327.6" y2="385.8" stroke="#111" stroke-width="0.9"/>
<line x1="323.6" y1="384.3" x2="327.6" y2="384.3" stroke="#111" stroke-width="0.9"/>
<rect x="339.6" y="383.1" width="2.8" height="2.8" fill="#1d5596"/>
<rect x="336" y="387" width="2.8" height="2.8" fill="#1d5596"/>
<rect x="342.6" y="388.6" width="2.8" height="2.8" fill="#1d5596"/>
<rect x="337.6" y="389.6" width="2.8" height="2.8" fill="#1d5596"/>
<rect x="341.1" y="389.8" width="2.8" height="2.8" fill="#1d5596"/>
<line x1="340.9" y1="388.5" x2="340.9" y2="390.5" stroke="#111" stroke-width="0.9"/>
<line x1="338.9" y1="388.5" x2="342.9" y2="388.5" stroke="#111" stroke-width="0.9"/>
<line x1="338.9" y1="390.5" x2="342.9" y2="390.5" stroke="#111" stroke-width="0.9"/>
<line x1="338.9" y1="389.5" x2="342.9" y2="389.5" stroke="#111" stroke-width="0.9"/>
<path d="M354.7 333.91 L356.45 337.06 L352.95 337.06 Z" fill="#5b1f7a"/>
<path d="M359.1 333.61 L360.85 336.76 L357.35 336.76 Z" fill="#5b1f7a"/>
<path d="M353.3 342.51 L355.05 345.66 L351.55 345.66 Z" fill="#5b1f7a"/>
<path d="M356.9 341.11 L358.65 344.26 L355.15 344.26 Z" fill="#5b1f7a"/>
<path d="M361.2 342.51 L362.95 345.66 L359.45 345.66 Z" fill="#5b1f7a"/>
<path d="M360.5 338.91 L362.25 342.06 L358.75 342.06 Z" fill="#5b1f7a"/>
<line x1="356.6" y1="337.9" x2="356.6" y2="342.3" stroke="#111" stroke-width="0.9"/>
<line x1="354.35" y1="337.9" x2="358.85" y2="337.9" stroke="#111" stroke-width="0.9"/>
<line x1="354.35" y1="342.3" x2="358.85" y2="342.3" stroke="#111" stroke-width="0.9"/>
<line x1="354.35" y1="340.1" x2="358.85" y2="340.1" stroke="#111" stroke-width="0.9"/>
<path d="M371.3 386.64 L373 383.58 L369.6 383.58 Z" fill="#2bb83c"/>
<path d="M368.5 390.34 L370.2 387.28 L366.8 387.28 Z" fill="#2bb83c"/>
<path d="M374 390.84 L375.7 387.78 L372.3 387.78 Z" fill="#2bb83c"/>
<path d="M370 392.34 L371.7 389.28 L368.3 389.28 Z" fill="#2bb83c"/>
<path d="M375.5 392.84 L377.2 389.78 L373.8 389.78 Z" fill="#2bb83c"/>
<line x1="371.5" y1="388.5" x2="371.5" y2="390.5" stroke="#111" stroke-width="0.9"/>
<line x1="369.5" y1="388.5" x2="373.5" y2="388.5" stroke="#111" stroke-width="0.9"/>
<line x1="369.5" y1="390.5" x2="373.5" y2="390.5" stroke="#111" stroke-width="0.9"/>
<line x1="369.5" y1="389.5" x2="373.5" y2="389.5" stroke="#111" stroke-width="0.9"/>
<circle cx="398.5" cy="334" r="1.55" fill="#d0021b"/>
<circle cx="394.5" cy="337.8" r="1.55" fill="#d0021b"/>
<circle cx="402.5" cy="337.8" r="1.55" fill="#d0021b"/>
<circle cx="394.8" cy="342.8" r="1.55" fill="#d0021b"/>
<circle cx="402.5" cy="341.8" r="1.55" fill="#d0021b"/>
<circle cx="398.6" cy="339.4" r="1.55" fill="#d0021b"/>
<line x1="398.6" y1="337.8" x2="398.6" y2="341" stroke="#111" stroke-width="0.9"/>
<line x1="396.35" y1="337.8" x2="400.85" y2="337.8" stroke="#111" stroke-width="0.9"/>
<line x1="396.35" y1="341" x2="400.85" y2="341" stroke="#111" stroke-width="0.9"/>
<line x1="396.35" y1="339.4" x2="400.85" y2="339.4" stroke="#111" stroke-width="0.9"/>
<rect x="413.1" y="374.6" width="2.8" height="2.8" fill="#1d5596"/>
<rect x="416.9" y="377.7" width="2.8" height="2.8" fill="#1d5596"/>
<rect x="408.8" y="380" width="2.8" height="2.8" fill="#1d5596"/>
<rect x="408.8" y="385.4" width="2.8" height="2.8" fill="#1d5596"/>
<rect x="416.2" y="384.1" width="2.8" height="2.8" fill="#1d5596"/>
<rect x="411.6" y="387.1" width="2.8" height="2.8" fill="#1d5596"/>
<line x1="414.4" y1="381.2" x2="414.4" y2="383.4" stroke="#111" stroke-width="0.9"/>
<line x1="412.15" y1="381.2" x2="416.65" y2="381.2" stroke="#111" stroke-width="0.9"/>
<line x1="412.15" y1="383.4" x2="416.65" y2="383.4" stroke="#111" stroke-width="0.9"/>
<line x1="412.15" y1="382.3" x2="416.65" y2="382.3" stroke="#111" stroke-width="0.9"/>
<path d="M429.7 320.71 L431.45 323.86 L427.95 323.86 Z" fill="#5b1f7a"/>
<path d="M429.7 324.11 L431.45 327.26 L427.95 327.26 Z" fill="#5b1f7a"/>
<path d="M426.5 328.41 L428.25 331.56 L424.75 331.56 Z" fill="#5b1f7a"/>
<path d="M429.8 328.91 L431.55 332.06 L428.05 332.06 Z" fill="#5b1f7a"/>
<path d="M433 328.41 L434.75 331.56 L431.25 331.56 Z" fill="#5b1f7a"/>
<line x1="429.7" y1="326" x2="429.7" y2="330" stroke="#111" stroke-width="0.9"/>
<line x1="427.45" y1="326" x2="431.95" y2="326" stroke="#111" stroke-width="0.9"/>
<line x1="427.45" y1="330" x2="431.95" y2="330" stroke="#111" stroke-width="0.9"/>
<line x1="427.45" y1="328" x2="431.95" y2="328" stroke="#111" stroke-width="0.9"/>
<path d="M441.8 373.84 L443.5 370.78 L440.1 370.78 Z" fill="#2bb83c"/>
<path d="M445.9 375.84 L447.6 372.78 L444.2 372.78 Z" fill="#2bb83c"/>
<path d="M441.8 379.64 L443.5 376.58 L440.1 376.58 Z" fill="#2bb83c"/>
<path d="M449.2 380.54 L450.9 377.48 L447.5 377.48 Z" fill="#2bb83c"/>
<path d="M441.2 383.24 L442.9 380.18 L439.5 380.18 Z" fill="#2bb83c"/>
<line x1="445.7" y1="375.8" x2="445.7" y2="379" stroke="#111" stroke-width="0.9"/>
<line x1="443.45" y1="375.8" x2="447.95" y2="375.8" stroke="#111" stroke-width="0.9"/>
<line x1="443.45" y1="379" x2="447.95" y2="379" stroke="#111" stroke-width="0.9"/>
<line x1="443.45" y1="377.4" x2="447.95" y2="377.4" stroke="#111" stroke-width="0.9"/>
<line x1="324.4" y1="376.5" x2="338.9" y2="376.5" stroke="#222" stroke-width="1"/>
<circle cx="330.05" cy="373" r="1.05" fill="#231f20"/>
<circle cx="333.25" cy="373" r="1.05" fill="#231f20"/>
<line x1="324.4" y1="331.5" x2="355.9" y2="331.5" stroke="#222" stroke-width="1"/>
<circle cx="336.95" cy="327.2" r="1.05" fill="#231f20"/>
<circle cx="340.15" cy="327.2" r="1.05" fill="#231f20"/>
<circle cx="343.35" cy="327.2" r="1.05" fill="#231f20"/>
<line x1="339.5" y1="322.5" x2="372.5" y2="322.5" stroke="#222" stroke-width="1"/>
<text x="356" y="319.7" font-size="7.3" text-anchor="middle" fill="#333" stroke="#333" stroke-width="0.22" font-weight="normal">ns</text>
<line x1="356.9" y1="332.5" x2="371.3" y2="332.5" stroke="#222" stroke-width="1"/>
<circle cx="362.5" cy="328.8" r="1.05" fill="#231f20"/>
<circle cx="365.7" cy="328.8" r="1.05" fill="#231f20"/>
<line x1="397.8" y1="331.5" x2="414.9" y2="331.5" stroke="#222" stroke-width="1"/>
<circle cx="403.15" cy="327.1" r="1.05" fill="#231f20"/>
<circle cx="406.35" cy="327.1" r="1.05" fill="#231f20"/>
<circle cx="409.55" cy="327.1" r="1.05" fill="#231f20"/>
<line x1="396.8" y1="319.5" x2="429.7" y2="319.5" stroke="#222" stroke-width="1"/>
<circle cx="410.05" cy="315.4" r="1.05" fill="#231f20"/>
<circle cx="413.25" cy="315.4" r="1.05" fill="#231f20"/>
<circle cx="416.45" cy="315.4" r="1.05" fill="#231f20"/>
<line x1="412.6" y1="311.5" x2="445.6" y2="311.5" stroke="#222" stroke-width="1"/>
<text x="429.1" y="309.05" font-size="7.3" text-anchor="middle" fill="#333" stroke="#333" stroke-width="0.22" font-weight="normal">ns</text>
<line x1="431" y1="318.5" x2="447.9" y2="318.5" stroke="#222" stroke-width="1"/>
<circle cx="437.85" cy="314.1" r="1.05" fill="#231f20"/>
<circle cx="441.05" cy="314.1" r="1.05" fill="#231f20"/>
<circle cx="461.9" cy="306.5" r="1.4" fill="#d0021b"/>
<text x="466.5" y="309.25" font-size="7.8" text-anchor="start" fill="#231f20" stroke="#231f20" stroke-width="0.22" font-weight="normal" textLength="48.34" lengthAdjust="spacingAndGlyphs">AID WT + PBS</text>
<rect x="460.6" y="314.6" width="2.6" height="2.6" fill="#1d5596"/>
<text x="466.5" y="318.65" font-size="7.8" text-anchor="start" fill="#231f20" stroke="#231f20" stroke-width="0.22" font-weight="normal" textLength="47.67" lengthAdjust="spacingAndGlyphs">AID KO + PBS</text>
<path d="M461.9 324.24 L463.3 326.76 L460.5 326.76 Z" fill="#5b1f7a"/>
<text x="466.5" y="328.5" font-size="7.8" text-anchor="start" fill="#231f20" stroke="#231f20" stroke-width="0.22" font-weight="normal" textLength="47.53" lengthAdjust="spacingAndGlyphs">AID WT + LPS</text>
<path d="M461.9 336.61 L463.3 334.09 L460.5 334.09 Z" fill="#2bb83c"/>
<text x="466.5" y="337.85" font-size="7.8" text-anchor="start" fill="#231f20" stroke="#231f20" stroke-width="0.22" font-weight="normal" textLength="46.86" lengthAdjust="spacingAndGlyphs">AID KO + LPS</text>
<text x="7.2" y="437" font-size="12" text-anchor="start" fill="#000" stroke="#000" stroke-width="0.22" font-weight="bold">G</text>
<line x1="43.5" y1="443.75" x2="43.5" y2="567" stroke="#231f20" stroke-width="1.1"/>
<line x1="40.5" y1="449.5" x2="43.5" y2="449.5" stroke="#231f20" stroke-width="1"/>
<text x="37.2" y="452.5" font-size="8.5" text-anchor="end" fill="#231f20" stroke="#231f20" stroke-width="0.22" font-weight="normal" textLength="13.02" lengthAdjust="spacingAndGlyphs">150</text>
<line x1="40.5" y1="488.5" x2="43.5" y2="488.5" stroke="#231f20" stroke-width="1"/>
<text x="37.2" y="491.5" font-size="8.5" text-anchor="end" fill="#231f20" stroke="#231f20" stroke-width="0.22" font-weight="normal" textLength="13.02" lengthAdjust="spacingAndGlyphs">100</text>
<line x1="40.5" y1="527.5" x2="43.5" y2="527.5" stroke="#231f20" stroke-width="1"/>
<text x="37.2" y="530.5" font-size="8.5" text-anchor="end" fill="#231f20" stroke="#231f20" stroke-width="0.22" font-weight="normal" textLength="8.68" lengthAdjust="spacingAndGlyphs">50</text>
<line x1="40.5" y1="566.5" x2="43.5" y2="566.5" stroke="#231f20" stroke-width="1"/>
<text x="37.2" y="569.5" font-size="8.5" text-anchor="end" fill="#231f20" stroke="#231f20" stroke-width="0.22" font-weight="normal" textLength="4.34" lengthAdjust="spacingAndGlyphs">0</text>
<text transform="translate(15,505) rotate(-90)" x="0" y="2.9" font-size="8.3" text-anchor="middle" fill="#231f20" style="stroke-width:0.3px" textLength="42.6" lengthAdjust="spacingAndGlyphs">GFP<tspan font-size="5.5" dy="-3.2">+</tspan><tspan dy="3.2"> cells (%)</tspan></text>
<line x1="43.5" y1="566.5" x2="513" y2="566.5" stroke="#231f20" stroke-width="1.1"/>
<rect x="49.4" y="503.2" width="10.8" height="63.3" fill="#dd8294"/>
<circle cx="51.7" cy="498" r="1.45" fill="#d0021b"/>
<circle cx="56.8" cy="497.5" r="1.45" fill="#d0021b"/>
<circle cx="51.7" cy="503.8" r="1.45" fill="#d0021b"/>
<circle cx="56.8" cy="503.8" r="1.45" fill="#d0021b"/>
<circle cx="54.2" cy="509.2" r="1.45" fill="#d0021b"/>
<line x1="54.8" y1="500.9" x2="54.8" y2="505.5" stroke="#111" stroke-width="0.9"/>
<line x1="52.3" y1="500.9" x2="57.3" y2="500.9" stroke="#111" stroke-width="0.9"/>
<line x1="52.3" y1="505.5" x2="57.3" y2="505.5" stroke="#111" stroke-width="0.9"/>
<line x1="52.3" y1="503.2" x2="57.3" y2="503.2" stroke="#111" stroke-width="0.9"/>
<rect x="66.2" y="501.2" width="10.8" height="65.3" fill="#86a5c1"/>
<rect x="65.4" y="492.6" width="2.8" height="2.8" fill="#1d5596"/>
<rect x="70.1" y="494.6" width="2.8" height="2.8" fill="#1d5596"/>
<rect x="65.1" y="499.5" width="2.8" height="2.8" fill="#1d5596"/>
<rect x="74.3" y="500.4" width="2.8" height="2.8" fill="#1d5596"/>
<rect x="70.1" y="504.7" width="2.8" height="2.8" fill="#1d5596"/>
<rect x="69.1" y="499.6" width="2.8" height="2.8" fill="#1d5596"/>
<line x1="71.6" y1="498.9" x2="71.6" y2="503.5" stroke="#111" stroke-width="0.9"/>
<line x1="69.1" y1="498.9" x2="74.1" y2="498.9" stroke="#111" stroke-width="0.9"/>
<line x1="69.1" y1="503.5" x2="74.1" y2="503.5" stroke="#111" stroke-width="0.9"/>
<line x1="69.1" y1="501.2" x2="74.1" y2="501.2" stroke="#111" stroke-width="0.9"/>
<rect x="83" y="496" width="10.8" height="70.5" fill="#ab93b8"/>
<path d="M88.1 490.62 L89.75 493.59 L86.45 493.59 Z" fill="#5b1f7a"/>
<path d="M84 493.32 L85.65 496.29 L82.35 496.29 Z" fill="#5b1f7a"/>
<path d="M92.1 494.62 L93.75 497.59 L90.45 497.59 Z" fill="#5b1f7a"/>
<path d="M85.4 500.02 L87.05 502.99 L83.75 502.99 Z" fill="#5b1f7a"/>
<path d="M90.1 499.12 L91.75 502.09 L88.45 502.09 Z" fill="#5b1f7a"/>
<line x1="88.4" y1="493.7" x2="88.4" y2="498.3" stroke="#111" stroke-width="0.9"/>
<line x1="85.9" y1="493.7" x2="90.9" y2="493.7" stroke="#111" stroke-width="0.9"/>
<line x1="85.9" y1="498.3" x2="90.9" y2="498.3" stroke="#111" stroke-width="0.9"/>
<line x1="85.9" y1="496" x2="90.9" y2="496" stroke="#111" stroke-width="0.9"/>
<rect x="99.8" y="498.5" width="10.8" height="68" fill="#9dd9a3"/>
<path d="M105.2 493.73 L106.8 490.85 L103.6 490.85 Z" fill="#2bb83c"/>
<path d="M110 498.83 L111.6 495.95 L108.4 495.95 Z" fill="#2bb83c"/>
<path d="M100.9 501.23 L102.5 498.35 L99.3 498.35 Z" fill="#2bb83c"/>
<path d="M110 502.93 L111.6 500.05 L108.4 500.05 Z" fill="#2bb83c"/>
<line x1="105.2" y1="496.7" x2="105.2" y2="500.3" stroke="#111" stroke-width="0.9"/>
<line x1="102.7" y1="496.7" x2="107.7" y2="496.7" stroke="#111" stroke-width="0.9"/>
<line x1="102.7" y1="500.3" x2="107.7" y2="500.3" stroke="#111" stroke-width="0.9"/>
<line x1="102.7" y1="498.5" x2="107.7" y2="498.5" stroke="#111" stroke-width="0.9"/>
<line x1="80" y1="566.5" x2="80" y2="569.5" stroke="#231f20" stroke-width="0.8"/>
<text x="80" y="578.4" font-size="7.9" text-anchor="middle" fill="#231f20" stroke="#231f20" stroke-width="0.22" font-weight="normal" textLength="13" lengthAdjust="spacingAndGlyphs">BM</text>
<rect x="128.6" y="547.5" width="10.8" height="19" fill="#dd8294"/>
<circle cx="129.5" cy="544.3" r="1.45" fill="#d0021b"/>
<circle cx="135" cy="542.5" r="1.45" fill="#d0021b"/>
<circle cx="138" cy="542" r="1.45" fill="#d0021b"/>
<circle cx="131.3" cy="548.8" r="1.45" fill="#d0021b"/>
<circle cx="138" cy="548.8" r="1.45" fill="#d0021b"/>
<circle cx="133.8" cy="556.3" r="1.45" fill="#d0021b"/>
<line x1="134" y1="544.5" x2="134" y2="550.5" stroke="#111" stroke-width="0.9"/>
<line x1="131.5" y1="544.5" x2="136.5" y2="544.5" stroke="#111" stroke-width="0.9"/>
<line x1="131.5" y1="550.5" x2="136.5" y2="550.5" stroke="#111" stroke-width="0.9"/>
<line x1="131.5" y1="547.5" x2="136.5" y2="547.5" stroke="#111" stroke-width="0.9"/>
<rect x="145.4" y="563.3" width="10.8" height="3.2" fill="#86a5c1"/>
<rect x="144.9" y="560.6" width="2.8" height="2.8" fill="#1d5596"/>
<rect x="149.9" y="562.4" width="2.8" height="2.8" fill="#1d5596"/>
<rect x="153.6" y="558.6" width="2.8" height="2.8" fill="#1d5596"/>
<rect x="146.6" y="563.6" width="2.8" height="2.8" fill="#1d5596"/>
<rect x="151.1" y="564.1" width="2.8" height="2.8" fill="#1d5596"/>
<line x1="150.8" y1="561.8" x2="150.8" y2="564.8" stroke="#111" stroke-width="0.9"/>
<line x1="148.3" y1="561.8" x2="153.3" y2="561.8" stroke="#111" stroke-width="0.9"/>
<line x1="148.3" y1="564.8" x2="153.3" y2="564.8" stroke="#111" stroke-width="0.9"/>
<line x1="148.3" y1="563.3" x2="153.3" y2="563.3" stroke="#111" stroke-width="0.9"/>
<rect x="162.2" y="521.3" width="10.8" height="45.2" fill="#ab93b8"/>
<path d="M167.5 506.52 L169.15 509.49 L165.85 509.49 Z" fill="#5b1f7a"/>
<path d="M167.5 512.02 L169.15 514.99 L165.85 514.99 Z" fill="#5b1f7a"/>
<path d="M162.5 519.52 L164.15 522.49 L160.85 522.49 Z" fill="#5b1f7a"/>
<path d="M171.3 519.52 L172.95 522.49 L169.65 522.49 Z" fill="#5b1f7a"/>
<path d="M163.8 532.02 L165.45 534.99 L162.15 534.99 Z" fill="#5b1f7a"/>
<path d="M171.3 530.72 L172.95 533.69 L169.65 533.69 Z" fill="#5b1f7a"/>
<line x1="167.6" y1="517.3" x2="167.6" y2="525.3" stroke="#111" stroke-width="0.9"/>
<line x1="165.1" y1="517.3" x2="170.1" y2="517.3" stroke="#111" stroke-width="0.9"/>
<line x1="165.1" y1="525.3" x2="170.1" y2="525.3" stroke="#111" stroke-width="0.9"/>
<line x1="165.1" y1="521.3" x2="170.1" y2="521.3" stroke="#111" stroke-width="0.9"/>
<rect x="179" y="565" width="10.8" height="1.5" fill="#9dd9a3"/>
<path d="M184.5 563.03 L186.1 560.15 L182.9 560.15 Z" fill="#2bb83c"/>
<line x1="184.4" y1="564" x2="184.4" y2="566" stroke="#111" stroke-width="0.9"/>
<line x1="181.9" y1="564" x2="186.9" y2="564" stroke="#111" stroke-width="0.9"/>
<line x1="181.9" y1="566" x2="186.9" y2="566" stroke="#111" stroke-width="0.9"/>
<line x1="181.9" y1="565" x2="186.9" y2="565" stroke="#111" stroke-width="0.9"/>
<line x1="159.2" y1="566.5" x2="159.2" y2="569.5" stroke="#231f20" stroke-width="0.8"/>
<text x="159.1" y="578.4" font-size="7.9" text-anchor="middle" fill="#231f20" stroke="#231f20" stroke-width="0.22" font-weight="normal" textLength="11.3" lengthAdjust="spacingAndGlyphs">SP</text>
<rect x="207.8" y="557" width="10.8" height="9.5" fill="#dd8294"/>
<circle cx="212.5" cy="553" r="1.45" fill="#d0021b"/>
<circle cx="208" cy="557" r="1.45" fill="#d0021b"/>
<circle cx="216.3" cy="557.5" r="1.45" fill="#d0021b"/>
<circle cx="213" cy="563" r="1.45" fill="#d0021b"/>
<line x1="213.2" y1="554.5" x2="213.2" y2="559.5" stroke="#111" stroke-width="0.9"/>
<line x1="210.7" y1="554.5" x2="215.7" y2="554.5" stroke="#111" stroke-width="0.9"/>
<line x1="210.7" y1="559.5" x2="215.7" y2="559.5" stroke="#111" stroke-width="0.9"/>
<line x1="210.7" y1="557" x2="215.7" y2="557" stroke="#111" stroke-width="0.9"/>
<rect x="224.6" y="561.3" width="10.8" height="5.2" fill="#86a5c1"/>
<rect x="223.6" y="558.1" width="2.8" height="2.8" fill="#1d5596"/>
<rect x="228.1" y="559.9" width="2.8" height="2.8" fill="#1d5596"/>
<rect x="232.4" y="560.6" width="2.8" height="2.8" fill="#1d5596"/>
<rect x="228.6" y="563.6" width="2.8" height="2.8" fill="#1d5596"/>
<rect x="224.6" y="563.1" width="2.8" height="2.8" fill="#1d5596"/>
<line x1="230" y1="559.8" x2="230" y2="562.8" stroke="#111" stroke-width="0.9"/>
<line x1="227.5" y1="559.8" x2="232.5" y2="559.8" stroke="#111" stroke-width="0.9"/>
<line x1="227.5" y1="562.8" x2="232.5" y2="562.8" stroke="#111" stroke-width="0.9"/>
<line x1="227.5" y1="561.3" x2="232.5" y2="561.3" stroke="#111" stroke-width="0.9"/>
<rect x="241.4" y="527.4" width="10.8" height="39.1" fill="#ab93b8"/>
<path d="M246.2 513.52 L247.85 516.49 L244.55 516.49 Z" fill="#5b1f7a"/>
<path d="M246.2 522.22 L247.85 525.19 L244.55 525.19 Z" fill="#5b1f7a"/>
<path d="M246.7 532.02 L248.35 534.99 L245.05 534.99 Z" fill="#5b1f7a"/>
<path d="M243 526.22 L244.65 529.19 L241.35 529.19 Z" fill="#5b1f7a"/>
<line x1="246.8" y1="523.4" x2="246.8" y2="531.4" stroke="#111" stroke-width="0.9"/>
<line x1="244.3" y1="523.4" x2="249.3" y2="523.4" stroke="#111" stroke-width="0.9"/>
<line x1="244.3" y1="531.4" x2="249.3" y2="531.4" stroke="#111" stroke-width="0.9"/>
<line x1="244.3" y1="527.4" x2="249.3" y2="527.4" stroke="#111" stroke-width="0.9"/>
<rect x="258.2" y="561.6" width="10.8" height="4.9" fill="#9dd9a3"/>
<path d="M262 558.73 L263.6 555.85 L260.4 555.85 Z" fill="#2bb83c"/>
<path d="M259.5 564.73 L261.1 561.85 L257.9 561.85 Z" fill="#2bb83c"/>
<path d="M265 564.73 L266.6 561.85 L263.4 561.85 Z" fill="#2bb83c"/>
<line x1="263.6" y1="560.1" x2="263.6" y2="563.1" stroke="#111" stroke-width="0.9"/>
<line x1="261.1" y1="560.1" x2="266.1" y2="560.1" stroke="#111" stroke-width="0.9"/>
<line x1="261.1" y1="563.1" x2="266.1" y2="563.1" stroke="#111" stroke-width="0.9"/>
<line x1="261.1" y1="561.6" x2="266.1" y2="561.6" stroke="#111" stroke-width="0.9"/>
<line x1="238.4" y1="566.5" x2="238.4" y2="569.5" stroke="#231f20" stroke-width="0.8"/>
<text x="238.3" y="578.4" font-size="7.9" text-anchor="middle" fill="#231f20" stroke="#231f20" stroke-width="0.22" font-weight="normal" textLength="10.1" lengthAdjust="spacingAndGlyphs">LN</text>
<rect x="287" y="543" width="10.8" height="23.5" fill="#dd8294"/>
<circle cx="291.8" cy="533" r="1.45" fill="#d0021b"/>
<circle cx="286.7" cy="539.3" r="1.45" fill="#d0021b"/>
<circle cx="289.4" cy="543.7" r="1.45" fill="#d0021b"/>
<circle cx="294.1" cy="543.3" r="1.45" fill="#d0021b"/>
<circle cx="288.1" cy="547.4" r="1.45" fill="#d0021b"/>
<circle cx="291.8" cy="545.8" r="1.45" fill="#d0021b"/>
<circle cx="296.4" cy="547.1" r="1.45" fill="#d0021b"/>
<line x1="292.4" y1="539.5" x2="292.4" y2="546.5" stroke="#111" stroke-width="0.9"/>
<line x1="289.9" y1="539.5" x2="294.9" y2="539.5" stroke="#111" stroke-width="0.9"/>
<line x1="289.9" y1="546.5" x2="294.9" y2="546.5" stroke="#111" stroke-width="0.9"/>
<line x1="289.9" y1="543" x2="294.9" y2="543" stroke="#111" stroke-width="0.9"/>
<rect x="303.8" y="551.3" width="10.8" height="15.2" fill="#86a5c1"/>
<rect x="303.1" y="545.7" width="2.8" height="2.8" fill="#1d5596"/>
<rect x="307.5" y="546.4" width="2.8" height="2.8" fill="#1d5596"/>
<rect x="312" y="544.4" width="2.8" height="2.8" fill="#1d5596"/>
<rect x="305.2" y="553.8" width="2.8" height="2.8" fill="#1d5596"/>
<rect x="309.8" y="553.8" width="2.8" height="2.8" fill="#1d5596"/>
<line x1="309.2" y1="548.8" x2="309.2" y2="553.8" stroke="#111" stroke-width="0.9"/>
<line x1="306.7" y1="548.8" x2="311.7" y2="548.8" stroke="#111" stroke-width="0.9"/>
<line x1="306.7" y1="553.8" x2="311.7" y2="553.8" stroke="#111" stroke-width="0.9"/>
<line x1="306.7" y1="551.3" x2="311.7" y2="551.3" stroke="#111" stroke-width="0.9"/>
<rect x="320.6" y="521.3" width="10.8" height="45.2" fill="#ab93b8"/>
<path d="M323.1 512.32 L324.75 515.29 L321.45 515.29 Z" fill="#5b1f7a"/>
<path d="M328.5 509.02 L330.15 511.99 L326.85 511.99 Z" fill="#5b1f7a"/>
<path d="M328.5 514.42 L330.15 517.39 L326.85 517.39 Z" fill="#5b1f7a"/>
<path d="M323.1 524.42 L324.75 527.39 L321.45 527.39 Z" fill="#5b1f7a"/>
<path d="M328.5 524.42 L330.15 527.39 L326.85 527.39 Z" fill="#5b1f7a"/>
<path d="M325.8 531.22 L327.45 534.19 L324.15 534.19 Z" fill="#5b1f7a"/>
<line x1="326" y1="517.3" x2="326" y2="525.3" stroke="#111" stroke-width="0.9"/>
<line x1="323.5" y1="517.3" x2="328.5" y2="517.3" stroke="#111" stroke-width="0.9"/>
<line x1="323.5" y1="525.3" x2="328.5" y2="525.3" stroke="#111" stroke-width="0.9"/>
<line x1="323.5" y1="521.3" x2="328.5" y2="521.3" stroke="#111" stroke-width="0.9"/>
<rect x="337.4" y="546" width="10.8" height="20.5" fill="#9dd9a3"/>
<path d="M342.2 538.73 L343.8 535.85 L340.6 535.85 Z" fill="#2bb83c"/>
<path d="M338.1 548.13 L339.7 545.25 L336.5 545.25 Z" fill="#2bb83c"/>
<path d="M343.3 549.53 L344.9 546.65 L341.7 546.65 Z" fill="#2bb83c"/>
<path d="M341.9 552.83 L343.5 549.95 L340.3 549.95 Z" fill="#2bb83c"/>
<line x1="342.8" y1="543.5" x2="342.8" y2="548.5" stroke="#111" stroke-width="0.9"/>
<line x1="340.3" y1="543.5" x2="345.3" y2="543.5" stroke="#111" stroke-width="0.9"/>
<line x1="340.3" y1="548.5" x2="345.3" y2="548.5" stroke="#111" stroke-width="0.9"/>
<line x1="340.3" y1="546" x2="345.3" y2="546" stroke="#111" stroke-width="0.9"/>
<line x1="317.6" y1="566.5" x2="317.6" y2="569.5" stroke="#231f20" stroke-width="0.8"/>
<text x="317.5" y="578.4" font-size="7.9" text-anchor="middle" fill="#231f20" stroke="#231f20" stroke-width="0.22" font-weight="normal" textLength="15.8" lengthAdjust="spacingAndGlyphs">Liver</text>
<rect x="366.2" y="555" width="10.8" height="11.5" fill="#dd8294"/>
<circle cx="368.8" cy="553" r="1.45" fill="#d0021b"/>
<circle cx="372.5" cy="552.5" r="1.45" fill="#d0021b"/>
<circle cx="376.3" cy="550" r="1.45" fill="#d0021b"/>
<circle cx="376.3" cy="554.5" r="1.45" fill="#d0021b"/>
<circle cx="370" cy="556" r="1.45" fill="#d0021b"/>
<line x1="371.6" y1="553" x2="371.6" y2="557" stroke="#111" stroke-width="0.9"/>
<line x1="369.1" y1="553" x2="374.1" y2="553" stroke="#111" stroke-width="0.9"/>
<line x1="369.1" y1="557" x2="374.1" y2="557" stroke="#111" stroke-width="0.9"/>
<line x1="369.1" y1="555" x2="374.1" y2="555" stroke="#111" stroke-width="0.9"/>
<rect x="383" y="560" width="10.8" height="6.5" fill="#86a5c1"/>
<rect x="383.6" y="557.4" width="2.8" height="2.8" fill="#1d5596"/>
<rect x="387.4" y="556.6" width="2.8" height="2.8" fill="#1d5596"/>
<rect x="391.1" y="558.6" width="2.8" height="2.8" fill="#1d5596"/>
<rect x="384.9" y="561.1" width="2.8" height="2.8" fill="#1d5596"/>
<rect x="389.9" y="561.1" width="2.8" height="2.8" fill="#1d5596"/>
<line x1="388.4" y1="558.5" x2="388.4" y2="561.5" stroke="#111" stroke-width="0.9"/>
<line x1="385.9" y1="558.5" x2="390.9" y2="558.5" stroke="#111" stroke-width="0.9"/>
<line x1="385.9" y1="561.5" x2="390.9" y2="561.5" stroke="#111" stroke-width="0.9"/>
<line x1="385.9" y1="560" x2="390.9" y2="560" stroke="#111" stroke-width="0.9"/>
<rect x="399.8" y="547.5" width="10.8" height="19" fill="#ab93b8"/>
<path d="M405 540.02 L406.65 542.99 L403.35 542.99 Z" fill="#5b1f7a"/>
<path d="M401.3 545.72 L402.95 548.69 L399.65 548.69 Z" fill="#5b1f7a"/>
<path d="M408.8 544.52 L410.45 547.49 L407.15 547.49 Z" fill="#5b1f7a"/>
<path d="M402.5 548.22 L404.15 551.19 L400.85 551.19 Z" fill="#5b1f7a"/>
<path d="M405 550.72 L406.65 553.69 L403.35 553.69 Z" fill="#5b1f7a"/>
<line x1="405.2" y1="545" x2="405.2" y2="550" stroke="#111" stroke-width="0.9"/>
<line x1="402.7" y1="545" x2="407.7" y2="545" stroke="#111" stroke-width="0.9"/>
<line x1="402.7" y1="550" x2="407.7" y2="550" stroke="#111" stroke-width="0.9"/>
<line x1="402.7" y1="547.5" x2="407.7" y2="547.5" stroke="#111" stroke-width="0.9"/>
<rect x="416.6" y="562.5" width="10.8" height="4" fill="#9dd9a3"/>
<path d="M420 561.73 L421.6 558.85 L418.4 558.85 Z" fill="#2bb83c"/>
<path d="M425 563.03 L426.6 560.15 L423.4 560.15 Z" fill="#2bb83c"/>
<line x1="422" y1="561.3" x2="422" y2="563.7" stroke="#111" stroke-width="0.9"/>
<line x1="419.5" y1="561.3" x2="424.5" y2="561.3" stroke="#111" stroke-width="0.9"/>
<line x1="419.5" y1="563.7" x2="424.5" y2="563.7" stroke="#111" stroke-width="0.9"/>
<line x1="419.5" y1="562.5" x2="424.5" y2="562.5" stroke="#111" stroke-width="0.9"/>
<line x1="396.8" y1="566.5" x2="396.8" y2="569.5" stroke="#231f20" stroke-width="0.8"/>
<text x="396.9" y="578.4" font-size="7.9" text-anchor="middle" fill="#231f20" stroke="#231f20" stroke-width="0.22" font-weight="normal" textLength="16.8" lengthAdjust="spacingAndGlyphs">Lung</text>
<rect x="445.4" y="530.1" width="10.8" height="36.4" fill="#dd8294"/>
<circle cx="447.8" cy="524.1" r="1.45" fill="#d0021b"/>
<circle cx="453.1" cy="522.6" r="1.45" fill="#d0021b"/>
<circle cx="447.8" cy="530.5" r="1.45" fill="#d0021b"/>
<circle cx="453.1" cy="530.5" r="1.45" fill="#d0021b"/>
<circle cx="447.8" cy="535.9" r="1.45" fill="#d0021b"/>
<circle cx="453.1" cy="535.9" r="1.45" fill="#d0021b"/>
<line x1="450.8" y1="528.1" x2="450.8" y2="532.1" stroke="#111" stroke-width="0.9"/>
<line x1="448.3" y1="528.1" x2="453.3" y2="528.1" stroke="#111" stroke-width="0.9"/>
<line x1="448.3" y1="532.1" x2="453.3" y2="532.1" stroke="#111" stroke-width="0.9"/>
<line x1="448.3" y1="530.1" x2="453.3" y2="530.1" stroke="#111" stroke-width="0.9"/>
<rect x="462.2" y="536.5" width="10.8" height="30" fill="#86a5c1"/>
<rect x="462.4" y="529.6" width="2.8" height="2.8" fill="#1d5596"/>
<rect x="468.8" y="529.6" width="2.8" height="2.8" fill="#1d5596"/>
<rect x="465.6" y="533.4" width="2.8" height="2.8" fill="#1d5596"/>
<rect x="462.4" y="538.1" width="2.8" height="2.8" fill="#1d5596"/>
<rect x="468.8" y="538.1" width="2.8" height="2.8" fill="#1d5596"/>
<rect x="465.6" y="537.6" width="2.8" height="2.8" fill="#1d5596"/>
<line x1="467.6" y1="534.5" x2="467.6" y2="538.5" stroke="#111" stroke-width="0.9"/>
<line x1="465.1" y1="534.5" x2="470.1" y2="534.5" stroke="#111" stroke-width="0.9"/>
<line x1="465.1" y1="538.5" x2="470.1" y2="538.5" stroke="#111" stroke-width="0.9"/>
<line x1="465.1" y1="536.5" x2="470.1" y2="536.5" stroke="#111" stroke-width="0.9"/>
<rect x="479" y="499.5" width="10.8" height="67" fill="#ab93b8"/>
<path d="M484.1 492.02 L485.75 494.99 L482.45 494.99 Z" fill="#5b1f7a"/>
<path d="M479.8 496.72 L481.45 499.69 L478.15 499.69 Z" fill="#5b1f7a"/>
<path d="M488.4 495.62 L490.05 498.59 L486.75 498.59 Z" fill="#5b1f7a"/>
<path d="M484.1 504.22 L485.75 507.19 L482.45 507.19 Z" fill="#5b1f7a"/>
<line x1="484.4" y1="497.7" x2="484.4" y2="501.3" stroke="#111" stroke-width="0.9"/>
<line x1="481.9" y1="497.7" x2="486.9" y2="497.7" stroke="#111" stroke-width="0.9"/>
<line x1="481.9" y1="501.3" x2="486.9" y2="501.3" stroke="#111" stroke-width="0.9"/>
<line x1="481.9" y1="499.5" x2="486.9" y2="499.5" stroke="#111" stroke-width="0.9"/>
<rect x="495.8" y="528.8" width="10.8" height="37.7" fill="#9dd9a3"/>
<path d="M498 524.13 L499.6 521.25 L496.4 521.25 Z" fill="#2bb83c"/>
<path d="M504.4 523.23 L506 520.35 L502.8 520.35 Z" fill="#2bb83c"/>
<path d="M501.2 530.53 L502.8 527.65 L499.6 527.65 Z" fill="#2bb83c"/>
<path d="M501.2 535.43 L502.8 532.55 L499.6 532.55 Z" fill="#2bb83c"/>
<path d="M501.2 540.33 L502.8 537.45 L499.6 537.45 Z" fill="#2bb83c"/>
<line x1="501.2" y1="526.4" x2="501.2" y2="531.2" stroke="#111" stroke-width="0.9"/>
<line x1="498.7" y1="526.4" x2="503.7" y2="526.4" stroke="#111" stroke-width="0.9"/>
<line x1="498.7" y1="531.2" x2="503.7" y2="531.2" stroke="#111" stroke-width="0.9"/>
<line x1="498.7" y1="528.8" x2="503.7" y2="528.8" stroke="#111" stroke-width="0.9"/>
<line x1="476" y1="566.5" x2="476" y2="569.5" stroke="#231f20" stroke-width="0.8"/>
<text x="476.5" y="578.4" font-size="7.9" text-anchor="middle" fill="#231f20" stroke="#231f20" stroke-width="0.22" font-weight="normal" textLength="18" lengthAdjust="spacingAndGlyphs">Brain</text>
<line x1="54.2" y1="487.5" x2="71.9" y2="487.5" stroke="#222" stroke-width="1"/>
<text x="63.05" y="484.8" font-size="7.3" text-anchor="middle" fill="#333" stroke="#333" stroke-width="0.22" font-weight="normal">ns</text>
<line x1="87.8" y1="486.5" x2="104.9" y2="486.5" stroke="#222" stroke-width="1"/>
<text x="96.35" y="484" font-size="7.3" text-anchor="middle" fill="#333" stroke="#333" stroke-width="0.22" font-weight="normal">ns</text>
<line x1="53" y1="474.5" x2="87.5" y2="474.5" stroke="#222" stroke-width="1"/>
<text x="70.25" y="472.4" font-size="7.3" text-anchor="middle" fill="#333" stroke="#333" stroke-width="0.22" font-weight="normal">ns</text>
<line x1="70.5" y1="464.5" x2="104.5" y2="464.5" stroke="#222" stroke-width="1"/>
<text x="87.5" y="461.7" font-size="7.3" text-anchor="middle" fill="#333" stroke="#333" stroke-width="0.22" font-weight="normal">ns</text>
<line x1="132.5" y1="536.5" x2="152" y2="536.5" stroke="#222" stroke-width="1"/>
<circle cx="139.05" cy="532.8" r="1.05" fill="#231f20"/>
<circle cx="142.25" cy="532.8" r="1.05" fill="#231f20"/>
<circle cx="145.45" cy="532.8" r="1.05" fill="#231f20"/>
<line x1="133.8" y1="502.5" x2="168.3" y2="502.5" stroke="#222" stroke-width="1"/>
<circle cx="147.85" cy="498.3" r="1.05" fill="#231f20"/>
<circle cx="151.05" cy="498.3" r="1.05" fill="#231f20"/>
<circle cx="154.25" cy="498.3" r="1.05" fill="#231f20"/>
<line x1="150" y1="490.5" x2="184.5" y2="490.5" stroke="#222" stroke-width="1"/>
<text x="167.25" y="487.4" font-size="7.3" text-anchor="middle" fill="#333" stroke="#333" stroke-width="0.22" font-weight="normal">ns</text>
<line x1="166.3" y1="504.5" x2="185.5" y2="504.5" stroke="#222" stroke-width="1"/>
<circle cx="172.7" cy="500.3" r="1.05" fill="#231f20"/>
<circle cx="175.9" cy="500.3" r="1.05" fill="#231f20"/>
<circle cx="179.1" cy="500.3" r="1.05" fill="#231f20"/>
<line x1="212.5" y1="548.5" x2="231.3" y2="548.5" stroke="#222" stroke-width="1"/>
<circle cx="221.9" cy="543.8" r="1.05" fill="#231f20"/>
<line x1="213.3" y1="509.5" x2="247" y2="509.5" stroke="#222" stroke-width="1"/>
<circle cx="226.95" cy="505.3" r="1.05" fill="#231f20"/>
<circle cx="230.15" cy="505.3" r="1.05" fill="#231f20"/>
<circle cx="233.35" cy="505.3" r="1.05" fill="#231f20"/>
<line x1="230.3" y1="498.5" x2="264.7" y2="498.5" stroke="#222" stroke-width="1"/>
<text x="247.5" y="495.7" font-size="7.3" text-anchor="middle" fill="#333" stroke="#333" stroke-width="0.22" font-weight="normal">ns</text>
<line x1="246.2" y1="512.5" x2="264.7" y2="512.5" stroke="#222" stroke-width="1"/>
<circle cx="252.25" cy="507.8" r="1.05" fill="#231f20"/>
<circle cx="255.45" cy="507.8" r="1.05" fill="#231f20"/>
<circle cx="258.65" cy="507.8" r="1.05" fill="#231f20"/>
<line x1="292.5" y1="529.5" x2="311" y2="529.5" stroke="#222" stroke-width="1"/>
<circle cx="301.75" cy="525.1" r="1.05" fill="#231f20"/>
<line x1="292" y1="503.5" x2="328.3" y2="503.5" stroke="#222" stroke-width="1"/>
<circle cx="306.95" cy="499.4" r="1.05" fill="#231f20"/>
<circle cx="310.15" cy="499.4" r="1.05" fill="#231f20"/>
<circle cx="313.35" cy="499.4" r="1.05" fill="#231f20"/>
<line x1="307.9" y1="492.5" x2="341.5" y2="492.5" stroke="#222" stroke-width="1"/>
<text x="324.7" y="489.6" font-size="7.3" text-anchor="middle" fill="#333" stroke="#333" stroke-width="0.22" font-weight="normal">ns</text>
<line x1="325.6" y1="506.5" x2="343.6" y2="506.5" stroke="#222" stroke-width="1"/>
<circle cx="331.4" cy="502.6" r="1.05" fill="#231f20"/>
<circle cx="334.6" cy="502.6" r="1.05" fill="#231f20"/>
<circle cx="337.8" cy="502.6" r="1.05" fill="#231f20"/>
<line x1="372" y1="546.5" x2="390.8" y2="546.5" stroke="#222" stroke-width="1"/>
<circle cx="378.2" cy="542.1" r="1.05" fill="#231f20"/>
<circle cx="381.4" cy="542.1" r="1.05" fill="#231f20"/>
<circle cx="384.6" cy="542.1" r="1.05" fill="#231f20"/>
<line x1="371.3" y1="534.5" x2="405" y2="534.5" stroke="#222" stroke-width="1"/>
<circle cx="386.55" cy="530.8" r="1.05" fill="#231f20"/>
<circle cx="389.75" cy="530.8" r="1.05" fill="#231f20"/>
<line x1="388" y1="522.5" x2="422" y2="522.5" stroke="#222" stroke-width="1"/>
<text x="405" y="519.9" font-size="7.3" text-anchor="middle" fill="#333" stroke="#333" stroke-width="0.22" font-weight="normal">ns</text>
<line x1="403.8" y1="537.5" x2="422" y2="537.5" stroke="#222" stroke-width="1"/>
<circle cx="409.7" cy="533.3" r="1.05" fill="#231f20"/>
<circle cx="412.9" cy="533.3" r="1.05" fill="#231f20"/>
<circle cx="416.1" cy="533.3" r="1.05" fill="#231f20"/>
<line x1="451" y1="517.5" x2="469.1" y2="517.5" stroke="#222" stroke-width="1"/>
<circle cx="460.05" cy="513.1" r="1.05" fill="#231f20"/>
<line x1="450.3" y1="488.5" x2="484.5" y2="488.5" stroke="#222" stroke-width="1"/>
<circle cx="464.2" cy="484" r="1.05" fill="#231f20"/>
<circle cx="467.4" cy="484" r="1.05" fill="#231f20"/>
<circle cx="470.6" cy="484" r="1.05" fill="#231f20"/>
<line x1="467" y1="477.5" x2="501.2" y2="477.5" stroke="#222" stroke-width="1"/>
<text x="484.1" y="474.5" font-size="7.3" text-anchor="middle" fill="#333" stroke="#333" stroke-width="0.22" font-weight="normal">ns</text>
<line x1="482.4" y1="490.5" x2="501.2" y2="490.5" stroke="#222" stroke-width="1"/>
<circle cx="488.6" cy="486.8" r="1.05" fill="#231f20"/>
<circle cx="491.8" cy="486.8" r="1.05" fill="#231f20"/>
<circle cx="495" cy="486.8" r="1.05" fill="#231f20"/>
<circle cx="220.5" cy="445.9" r="1.4" fill="#d0021b"/>
<text x="226.1" y="448.65" font-size="7.8" text-anchor="start" fill="#231f20" stroke="#231f20" stroke-width="0.22" font-weight="normal" textLength="48.34" lengthAdjust="spacingAndGlyphs">AID WT + PBS</text>
<rect x="219.2" y="455.2" width="2.6" height="2.6" fill="#1d5596"/>
<text x="226.1" y="459.25" font-size="7.8" text-anchor="start" fill="#231f20" stroke="#231f20" stroke-width="0.22" font-weight="normal" textLength="47.67" lengthAdjust="spacingAndGlyphs">AID KO + PBS</text>
<path d="M285.4 444.39 L286.8 446.91 L284 446.91 Z" fill="#5b1f7a"/>
<text x="291" y="448.65" font-size="7.8" text-anchor="start" fill="#231f20" stroke="#231f20" stroke-width="0.22" font-weight="normal" textLength="47.53" lengthAdjust="spacingAndGlyphs">AID WT + LPS</text>
<path d="M285.4 458.01 L286.8 455.49 L284 455.49 Z" fill="#2bb83c"/>
<text x="291" y="459.25" font-size="7.8" text-anchor="start" fill="#231f20" stroke="#231f20" stroke-width="0.22" font-weight="normal" textLength="46.86" lengthAdjust="spacingAndGlyphs">AID KO + LPS</text>
<rect x="0.5" y="0.5" width="519" height="584" fill="none" stroke="#000" stroke-width="1"/>
</svg></body></html>
